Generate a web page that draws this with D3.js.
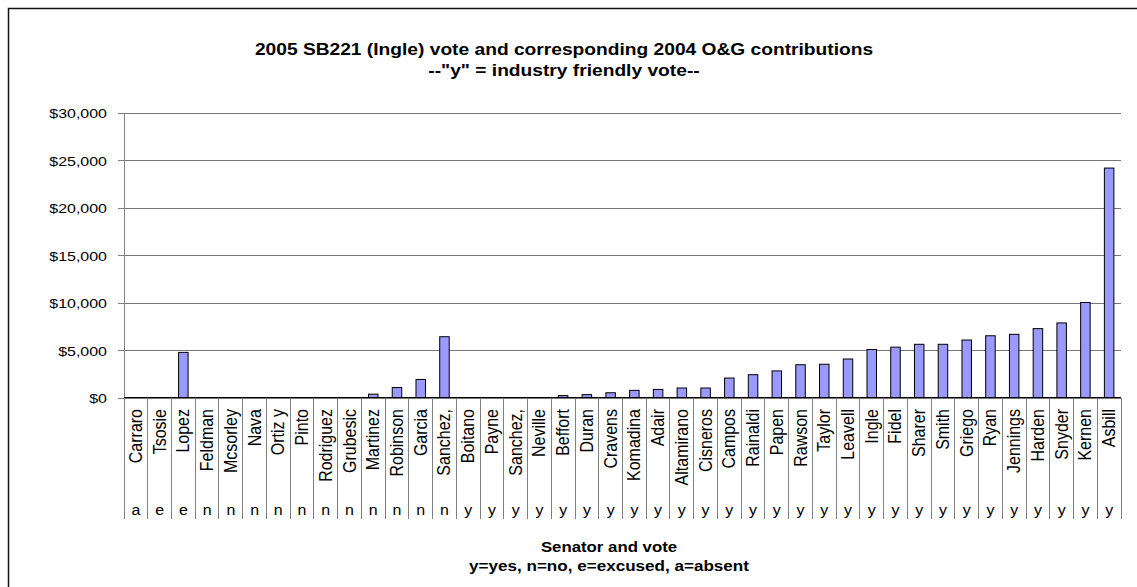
<!DOCTYPE html>
<html>
<head>
<meta charset="utf-8">
<script src="https://cdn.jsdelivr.net/npm/d3@7"></script>
<style>
  html, body { margin: 0; padding: 0; background: #fff; }
  svg { display: block; font-family: "Liberation Sans", Arial, sans-serif; }
</style>
</head>
<body>
<svg id="chart" width="1137" height="587"></svg>
<script>
// ---- data ----
const senators = ["Carraro","Tsosie","Lopez","Feldman","Mcsorley","Nava","Ortiz y","Pinto","Rodriguez","Grubesic",
  "Martinez","Robinson","Garcia","Sanchez,","Boitano","Payne","Sanchez,","Neville","Beffort","Duran",
  "Cravens","Komadina","Adair","Altamirano","Cisneros","Campos","Rainaldi","Papen","Rawson","Taylor",
  "Leavell","Ingle","Fidel","Sharer","Smith","Griego","Ryan","Jennings","Harden","Snyder","Kernen","Asbill"];
const votes = ["a","e","e","n","n","n","n","n","n","n","n","n","n","n",
  "y","y","y","y","y","y","y","y","y","y","y","y","y","y","y","y","y","y","y","y","y","y","y","y","y","y","y","y"];
const contributions = [0,0,4750,0,0,0,0,0,0,0,350,1050,1900,6400,0,0,0,0,200,300,
  500,750,850,1000,1000,2050,2400,2800,3450,3500,4050,5050,5300,5600,5600,6050,6500,6650,7250,7850,10000,24150];
const yTickValues = [0,5000,10000,15000,20000,25000,30000];
const yTickLabels = ["$0","$5,000","$10,000","$15,000","$20,000","$25,000","$30,000"];
const titleLines = ["2005 SB221 (Ingle) vote and corresponding 2004 O&G contributions", "--\"y\" = industry friendly vote--"];
const xTitleLines = ["Senator and vote", "y=yes, n=no, e=excused, a=absent"];

// ---- layout ----
const svg = d3.select("#chart");
const plot = {left: 124, right: 1121, top: 112.5, bottom: 397.5};
const tableBottom = 519;
const SX = 1.2; // horizontal stretch of the original text rendering

const idx = d3.range(senators.length);
const cell = d3.scaleBand().domain(idx).range([plot.left, plot.right]).paddingInner(0).paddingOuter(0);
const xBar = d3.scaleBand().domain(idx).range([plot.left, plot.right]).paddingInner(0.6).paddingOuter(0.3);
const y = d3.scaleLinear().domain([0, 30000]).range([plot.bottom, plot.top]);

// frame
svg.append("rect").attr("x", 8.5).attr("y", 8.5).attr("width", 1140).attr("height", 600)
  .attr("fill", "none").attr("stroke", "#111").attr("stroke-width", 1.5);

function stretchedText(g, x, yy, str, opts) {
  return g.append("text")
    .attr("transform", `translate(${x},${yy}) scale(${opts.sx || SX},1)`)
    .attr("text-anchor", opts.anchor || "middle")
    .attr("font-size", opts.size)
    .attr("font-weight", opts.weight || "normal")
    .attr("fill", "#000")
    .text(str);
}

// gridlines
const grid = svg.append("g").attr("transform", `translate(${plot.left},0)`)
  .call(d3.axisLeft(y).tickValues(yTickValues).tickSize(-(plot.right - plot.left)).tickFormat(""));
grid.select(".domain").remove();
grid.selectAll(".tick line").attr("stroke", "#777").attr("shape-rendering", "crispEdges");

// y axis
const yAxis = svg.append("g").attr("transform", `translate(${plot.left},0)`)
  .call(d3.axisLeft(y).tickValues(yTickValues).tickSize(6).tickSizeOuter(0)
    .tickFormat((d, i) => yTickLabels[i]));
yAxis.select(".domain").attr("stroke", "#808080").attr("shape-rendering", "crispEdges");
yAxis.selectAll(".tick line").attr("stroke", "#808080").attr("shape-rendering", "crispEdges");
yAxis.selectAll(".tick text")
  .attr("font-family", "Liberation Sans, Arial, sans-serif")
  .attr("font-size", 13.3).attr("fill", "#000")
  .attr("x", 0).attr("dy", null)
  .attr("transform", `translate(-17,5) scale(${SX},1)`);

// bars
svg.append("g").selectAll("rect").data(idx.filter(i => contributions[i] > 0)).join("rect")
  .attr("x", i => xBar(i)).attr("width", xBar.bandwidth())
  .attr("y", i => y(contributions[i])).attr("height", i => y(0) - y(contributions[i]))
  .attr("fill", "#9999FF").attr("stroke", "#000").attr("stroke-width", 1);

// category table: x axis line and separators
svg.append("line").attr("x1", plot.left).attr("x2", plot.right).attr("y1", plot.bottom).attr("y2", plot.bottom)
  .attr("stroke", "#000").attr("shape-rendering", "crispEdges");
const bounds = idx.map(i => cell(i)).concat([plot.right]);
svg.append("g").selectAll("line").data(bounds).join("line")
  .attr("x1", d => d).attr("x2", d => d).attr("y1", plot.bottom).attr("y2", tableBottom)
  .attr("stroke", "#808080").attr("shape-rendering", "crispEdges");

// senator names (rotated)
const names = svg.append("g");
idx.forEach(i => {
  names.append("text")
    .attr("transform", `translate(${cell(i) + cell.bandwidth() / 2 + 6},409) rotate(-90) scale(1,1.12)`)
    .attr("text-anchor", "end").attr("font-size", 16).attr("fill", "#000")
    .text(senators[i]);
});
// votes
const vg = svg.append("g");
idx.forEach(i => stretchedText(vg, cell(i) + cell.bandwidth() / 2, 515, votes[i], {size: 14.5, sx: 1.1}));

// titles
const tg = svg.append("g");
stretchedText(tg, 564, 55, titleLines[0], {size: 16, weight: "bold"});
stretchedText(tg, 564, 76, titleLines[1], {size: 16, weight: "bold"});
stretchedText(tg, 609, 552, xTitleLines[0], {size: 14, weight: "bold"});
stretchedText(tg, 609, 571, xTitleLines[1], {size: 14, weight: "bold", sx: 1.22});
</script>
</body>
</html>
